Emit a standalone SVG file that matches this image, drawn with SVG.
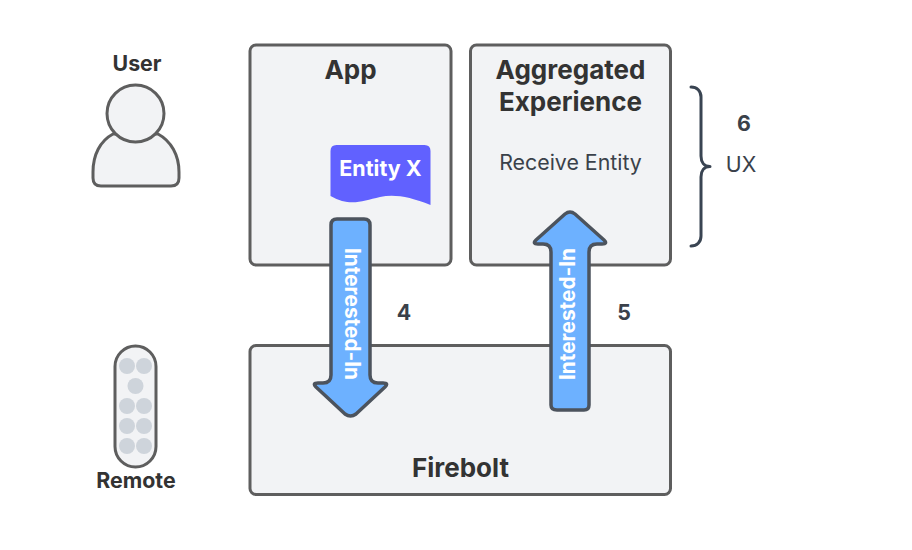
<svg xmlns="http://www.w3.org/2000/svg" width="912" height="550" viewBox="0 0 912 550">
<style>
text{font-family:Inter,"Liberation Sans",Arial,sans-serif;fill:#333333;text-anchor:middle}
.t{font-size:26px;font-weight:700}
.s{font-size:21.330px;font-weight:700}
.r{font-size:21.330px;fill:#3a414a}
.n{font-size:21.330px;font-weight:700;fill:#3a414a}
.box{fill:#f2f3f5;stroke:#5e5e5e;stroke-width:3}
.dot{fill:#ced4db}
.arrow{fill:#6db1ff;stroke:#4c535d;stroke-width:3.500;stroke-linejoin:round}
.al{font-size:20.800px;font-weight:700;fill:#fff}
</style>
<rect width="912" height="550" fill="#ffffff"/>
<g id="user">
<path class="box" d="M113 134C100 141 93 155 93 172V178Q93 186 101 186H171Q179 186 179 178V172C179 155 171 141 158 134Z"/>
<circle class="box" cx="135.500" cy="113.500" r="28.500"/>
<text class="s" x="137" y="71">User</text>
</g>
<g id="remote">
<rect class="box" x="115" y="346" width="41" height="121" rx="20.500"/>
<circle class="dot" cx="127" cy="366" r="8"/><circle class="dot" cx="144" cy="366" r="8"/>
<circle class="dot" cx="135.500" cy="386" r="8"/>
<circle class="dot" cx="127" cy="406" r="8"/><circle class="dot" cx="144" cy="406" r="8"/>
<circle class="dot" cx="127" cy="426" r="8"/><circle class="dot" cx="144" cy="426" r="8"/>
<circle class="dot" cx="127" cy="446" r="8"/><circle class="dot" cx="144" cy="446" r="8"/>
<text class="s" x="136" y="488">Remote</text>
</g>
<g id="app">
<rect class="box" x="250" y="45" width="201" height="220" rx="6"/>
<text class="t" x="350.500" y="78.500">App</text>
</g>
<g id="aggregated-experience">
<rect class="box" x="470.500" y="45" width="200" height="220" rx="6"/>
<text class="t" x="570.500" y="78.500">Aggregated</text>
<text class="t" x="570.500" y="110.500">Experience</text>
<text class="r" x="570.500" y="169.500">Receive Entity</text>
</g>
<g id="firebolt">
<rect class="box" x="250" y="345.500" width="420.500" height="149" rx="6"/>
<text class="t" x="460.500" y="476.500">Firebolt</text>
</g>
<g id="entity-x">
<path fill="#6161ff" d="M330.500 151Q330.500 145 336.500 145H424.500Q430.500 145 430.500 151V205C410 197 395 194 380 197C362 201 350 207 330.500 196Z"/>
<text x="380.500" y="176" font-size="21.500" font-weight="700" style="fill:#fff">Entity X</text>
</g>
<g id="connectors">
<path class="arrow" d="M337 219H364Q370 219 370 225V375Q370 383 378 383H383Q389 383 385 387L356 414Q350.500 418 345 414L316 387Q312 383 318 383H323Q331 383 331 375V225Q331 219 337 219Z"/>
<text class="al" transform="translate(344.500 314) rotate(90)">Interested-In</text>
<path class="arrow" d="M557 410H584Q589 410 589 405V252Q589 244 597 244H602Q608 244 604 240L575 214Q570 210 565 214L536 240Q532 244 538 244H543Q551 244 551 252V405Q551 410 557 410Z"/>
<text class="al" transform="translate(575 314) rotate(-90)">Interested-In</text>
<path fill="none" stroke="#394452" stroke-width="3" stroke-linecap="round" stroke-linejoin="round" d="M691 87C697 87 701 91 701 97V156C701 162 704 166.500 710 166.500C704 166.500 701 171 701 177V236C701 242 697 246 691 246"/>
</g>
<g id="labels">
<text class="n" x="404" y="319.500">4</text>
<text class="n" x="624" y="319.500">5</text>
<text class="n" x="744" y="130.500">6</text>
<text class="r" x="741" y="171.500">UX</text>
</g>
</svg>
